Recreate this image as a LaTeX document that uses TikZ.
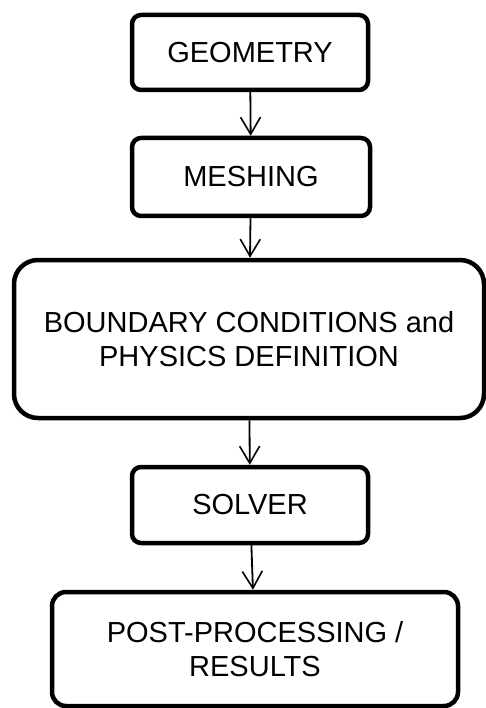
\documentclass[tikz,border=0pt]{standalone}
\usepackage{fontspec}
\setmainfont{Liberation Sans}
\usetikzlibrary{arrows.meta}
\usetikzlibrary{positioning}

\begin{document}
\begin{tikzpicture}[x=1pt,y=-1pt,
    stage/.style={draw=black,line width=4.5pt,rounded corners=9pt,
      align=center,inner sep=0pt,font=\fontsize{29}{34}\selectfont},
    flow/.style={line width=1.8pt,
      -{Straight Barb[length=17pt,width=20pt,line width=1.6pt]}}]
  \useasboundingbox (0,0) rectangle (486,708);
  % the five stages, top to bottom
  \node[stage,minimum width=236,minimum height=75] (geometry) at (250,52.5) {GEOMETRY};
  \node[stage,minimum width=238,minimum height=78] (meshing) at (251,177) {MESHING};
  \node[stage,minimum width=470,minimum height=158,rounded corners=24pt]
    (boundary) at (249,339) {BOUNDARY CONDITIONS and\\PHYSICS DEFINITION};
  \node[stage,minimum width=236,minimum height=76] (solver) at (250,505) {SOLVER};
  \node[stage,minimum width=406,minimum height=114,rounded corners=14pt]
    (results) at (255,649) {POST-PROCESSING /\\RESULTS};
  % arrows
  \draw[flow] (geometry) -- (meshing);
  \draw[flow] (meshing) -- (boundary);
  \draw[flow] (boundary) -- (solver);
  \draw[flow] (solver) -- (results);
\end{tikzpicture}
\end{document}
